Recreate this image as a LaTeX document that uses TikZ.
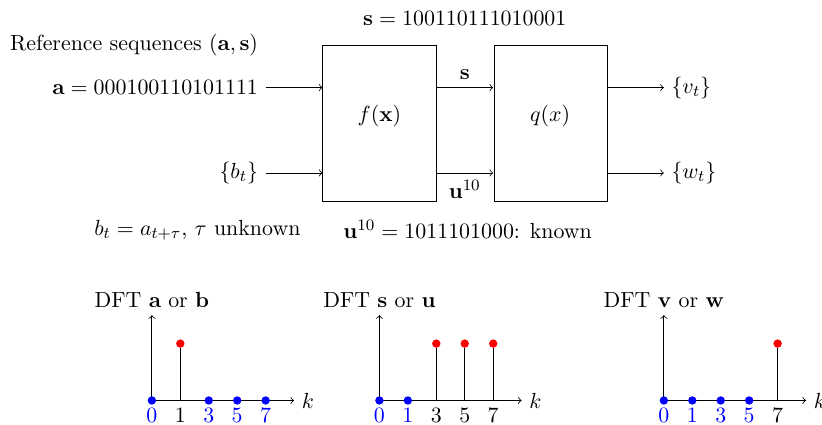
\documentclass[11pt,tikz,border=0pt]{standalone}
\usepackage{amsfonts,amssymb,amsmath}
\usepackage{tikz}
\usetikzlibrary{arrows}
\usetikzlibrary{positioning}

\begin{document}
\begin{tikzpicture}[
		->,
		>=to,
		node distance=1cm,
		block node/.style={
			draw,
			minimum width=2cm,
			minimum height=2.75cm
		},
		dot node/.style={
			circle,
			fill,
			inner sep=0pt,
			minimum size=4.2pt
		},
		blue dot/.style={dot node, blue},
		red dot/.style={dot node, red},
		tick node/.style={below}
		]
		\useasboundingbox (-5.67,-5.93) rectangle (8.78,1.54);
		
		\node[block node] (f) at (1,-0.625) {};
		\node[block node] (q) [right=of f] {};
		\node (fx) at (1,-0.5) {$f(\mathbf{x})$};
		\node (qx) at (4,-0.5) {$q(x)$};
		
		\coordinate (fa) at (0,0);
		\coordinate (fb) at (0,-1.5);
		\coordinate (fs) at (2,0);
		\coordinate (fu) at (2,-1.5);
		\coordinate (qs) at (3,0);
		\coordinate (qu) at (3,-1.5);
		\coordinate (qv) at (5,0);
		\coordinate (qw) at (5,-1.5);
		
		\node (s) at (2.5,1.22) {$\mathbf{s} = 100110111010001$};
		\node[left] (ref) at (-1,0.75) {Reference sequences $(\mathbf{a},\mathbf{s})$};
		\node[left] (a) at (-1,0) {$\mathbf{a} = 000100110101111$};
		\node[left] (b) at (-1,-1.5) {$\{b_t\}$};
		\node[right] (v) at (6,0) {$\{v_t\}$};
		\node[right] (w) at (6,-1.5) {$\{w_t\}$};
		\node[below] (tau) at (-2.2,-2.2) {$b_t = a_{t+\tau}$, $\tau$ unknown};
		\node[below] (known) at (2.55,-2.2) {$\mathbf{u}^{10} = 1011101000$: known};
		
		\path
		(a) edge (fa)
		(b) edge (fb)
		(fs) edge node[above, name=sl] {$\mathbf{s}$} (qs)
		(fu) edge node[below, name=ul] {$\mathbf{u}^{10}$} (qu)
		(qv) edge (v)
		(qw) edge (w);
		
		% DFT a or b
		\node[tick node, blue] (nab0) at (-3,-5.5) {$0$};
		\node[tick node] (nab1) at (-2.5,-5.5) {$1$};
		\node[tick node, blue] (nab3) at (-2,-5.5) {$3$};
		\node[tick node, blue] (nab5) at (-1.5,-5.5) {$5$};
		\node[tick node, blue] (nab7) at (-1,-5.5) {$7$};
		\node[above] (dftab) at (-3,-4) {DFT $\mathbf{a}$ or $\mathbf{b}$};
		\node[right] (kab) at (-0.5,-5.5) {$k$};
		\node[red dot] (ab1) at (-2.5,-4.5) {};
		\path
		(nab0.north) edge (dftab)
		(nab0.north) edge (kab)
		(nab1.north) edge[-] (ab1);
		\node[blue dot] (ab0) at (nab0.north) {};
		\node[blue dot] (ab3) at (nab3.north) {};
		\node[blue dot] (ab5) at (nab5.north) {};
		\node[blue dot] (ab7) at (nab7.north) {};
		
		% DFT s or u
		\node[tick node, blue] (nsu0) at (1,-5.5) {$0$};
		\node[tick node, blue] (nsu1) at (1.5,-5.5) {$1$};
		\node[tick node] (nsu3) at (2,-5.5) {$3$};
		\node[tick node] (nsu5) at (2.5,-5.5) {$5$};
		\node[tick node] (nsu7) at (3,-5.5) {$7$};
		\node[above] (dftsu) at (1,-4) {DFT $\mathbf{s}$ or $\mathbf{u}$};
		\node[right] (ksu) at (3.5,-5.5) {$k$};
		\node[red dot] (su3) at (2,-4.5) {};
		\node[red dot] (su5) at (2.5,-4.5) {};
		\node[red dot] (su7) at (3,-4.5) {};
		\path
		(nsu0.north) edge (dftsu)
		(nsu0.north) edge (ksu)
		(nsu3.north) edge[-] (su3)
		(nsu5.north) edge[-] (su5)
		(nsu7.north) edge[-] (su7);
		\node[blue dot] (su0) at (nsu0.north) {};
		\node[blue dot] (su1) at (nsu1.north) {};
		
		% DFT v or w
		\node[tick node, blue] (nvw0) at (6,-5.5) {$0$};
		\node[tick node, blue] (nvw1) at (6.5,-5.5) {$1$};
		\node[tick node, blue] (nvw3) at (7,-5.5) {$3$};
		\node[tick node, blue] (nvw5) at (7.5,-5.5) {$5$};
		\node[tick node] (nvw7) at (8,-5.5) {$7$};
		\node[above] (dftvw) at (6,-4) {DFT $\mathbf{v}$ or $\mathbf{w}$};
		\node[right] (kvw) at (8.5,-5.5) {$k$};
		\node[red dot] (vw7) at (8,-4.5) {};
		\path
		(nvw0.north) edge (dftvw)
		(nvw0.north) edge (kvw)
		(nvw7.north) edge[-] (vw7);
		\node[blue dot] (vw0) at (nvw0.north) {};
		\node[blue dot] (vw1) at (nvw1.north) {};
		\node[blue dot] (vw3) at (nvw3.north) {};
		\node[blue dot] (vw5) at (nvw5.north) {};
	\end{tikzpicture}
\end{document}
